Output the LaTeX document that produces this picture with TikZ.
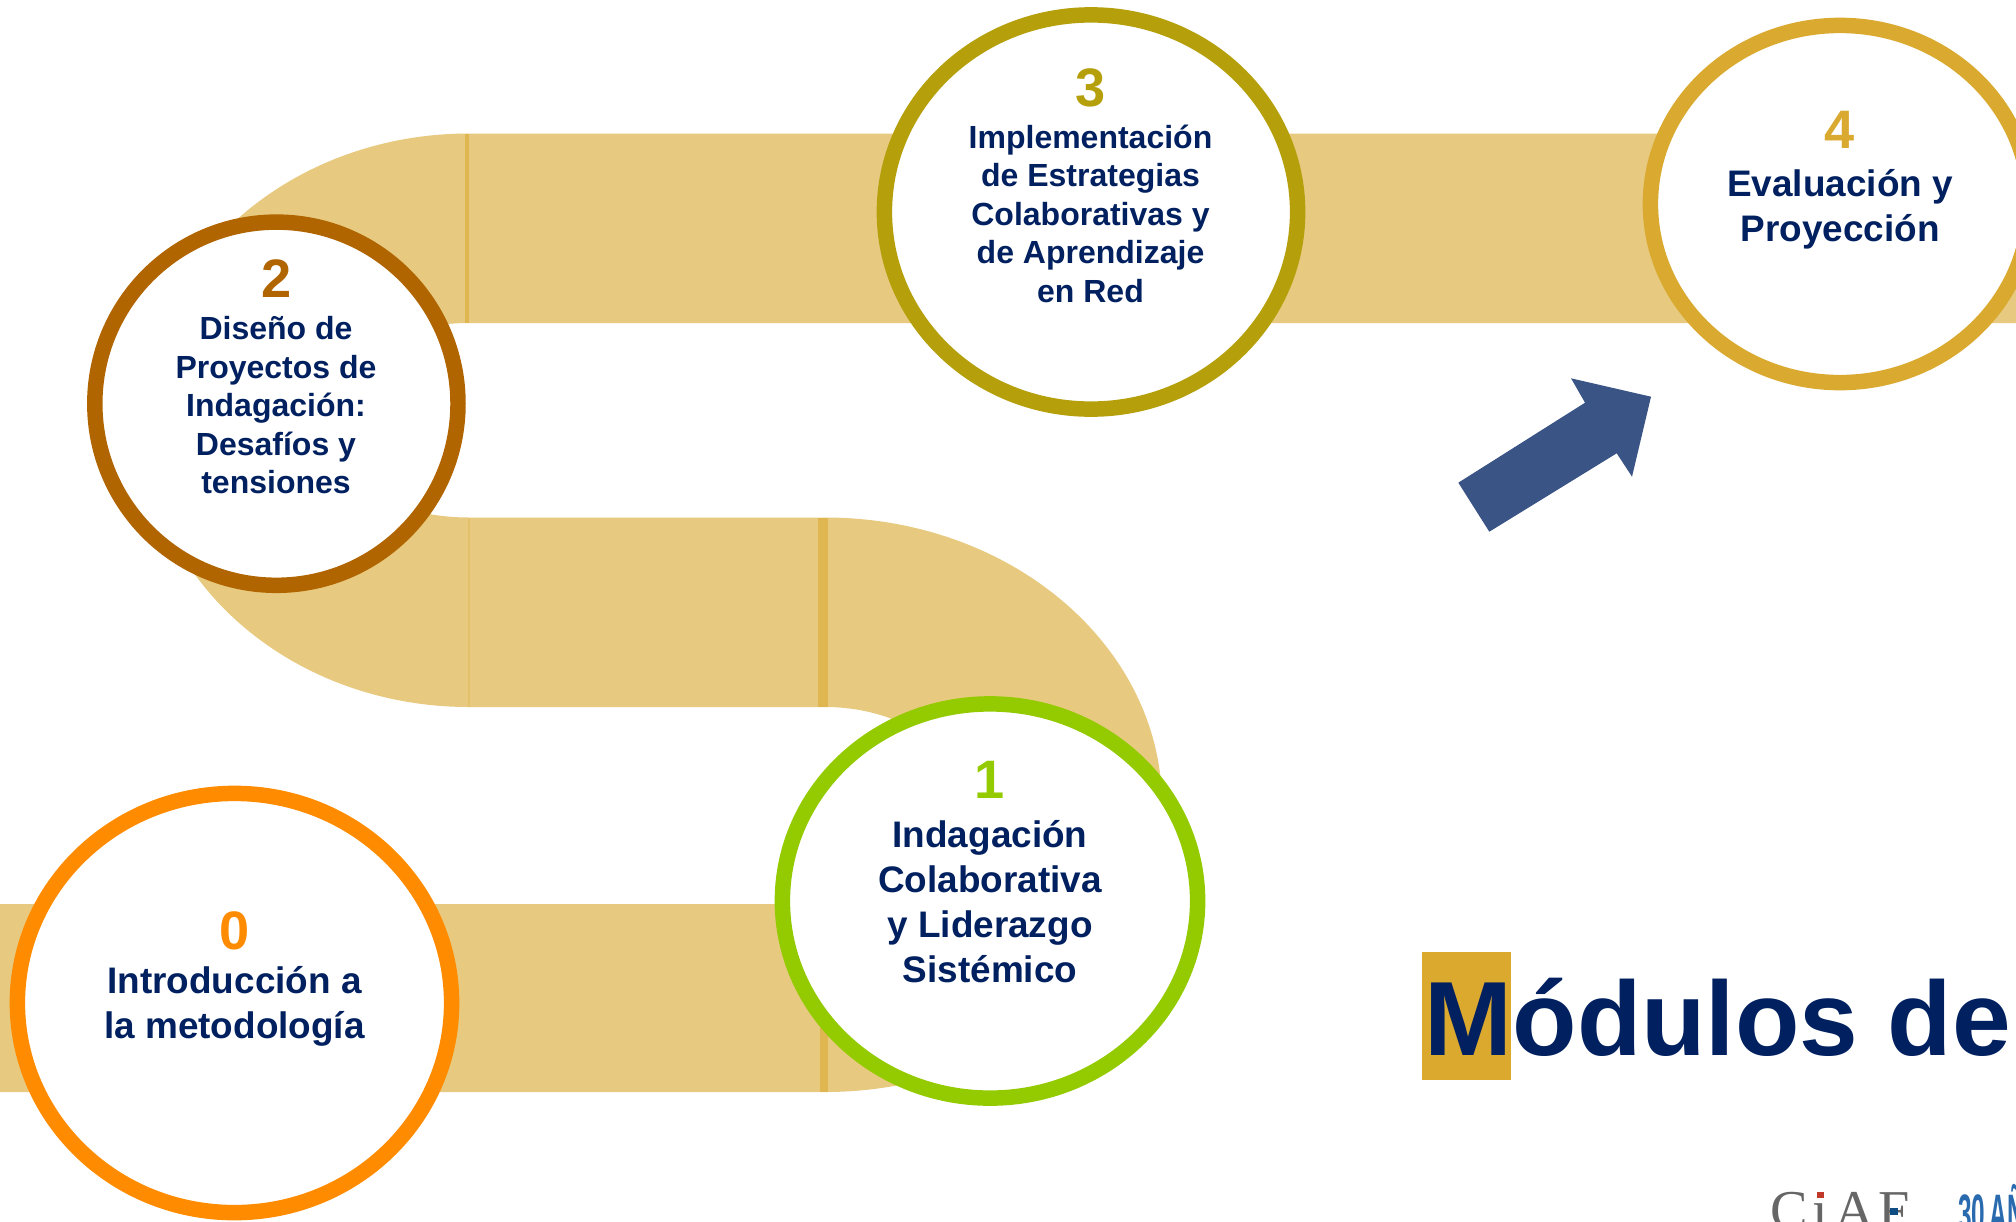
\documentclass[tikz,border=0pt]{standalone}
\usepackage{fontspec}
\setmainfont{Liberation Sans}
\newfontfamily\logofont{Liberation Serif}
\usetikzlibrary{shapes.geometric}
\definecolor{camino}{HTML}{E7CA80}
\definecolor{junta}{HTML}{E0B650}
\definecolor{marino}{HTML}{012060}
\definecolor{flecha}{HTML}{3A5485}
\definecolor{oro}{HTML}{DAA92E}
\definecolor{mod0}{HTML}{FF8C00}
\definecolor{mod1}{HTML}{94CB00}
\definecolor{mod2}{HTML}{B06500}
\definecolor{mod3}{HTML}{B5A00C}
\definecolor{mod4}{HTML}{DAA930}
\definecolor{logorojo}{HTML}{C0392B}
\definecolor{logoazul}{HTML}{0F4C81}
\definecolor{logocielo}{HTML}{2A6AAE}
\tikzset{
  modulo/.style={ellipse,fill=white,line width=4.4pt,inner sep=0pt},
  numero/.style={font=\bfseries\fontsize{15.4}{18}\selectfont,inner sep=0pt},
  grande/.style={font=\bfseries\fontsize{10.5}{12.8}\selectfont,text=marino,align=center,inner sep=0pt},
  chico/.style={font=\bfseries\fontsize{9.1}{10.95}\selectfont,text=marino,align=center,inner sep=0pt},
  logo/.style={font=\logofont\fontsize{16}{16}\selectfont,text=black!60,anchor=base west,inner sep=0pt}
}
\begin{document}
\begin{tikzpicture}[x=0.01cm,y=-0.01cm]
                \useasboundingbox (0,0) rectangle (2016,1221);
                % camino
                \fill [color=camino] (0,904)--(825,904) arc[start angle=90,end angle=-90,x radius=140,y radius=98.5]
                  --(469,707) arc[start angle=90,end angle=270,x radius=325,y radius=286.75]
                  --(2016,133.5)--(2016,323)--(469,323) arc[start angle=270,end angle=90,x radius=150,y radius=97.25]
                  --(825,517.5) arc[start angle=-90,end angle=90,x radius=337,y radius=287.25]
                  --(0,1092)--cycle;
                \fill [color=junta] (465,133.5) rectangle (469,323);
                \fill [color=junta!40!camino] (468,517.5) rectangle (470,707);
                \fill [color=junta] (818,517.5) rectangle (828,707);
                \fill [color=junta] (820,904) rectangle (828,1092);
                % modulos
                \node [modulo,draw=mod0,minimum width=4.34cm,minimum height=4.19cm] (m0) at (234.5,1003) {};
                \node [modulo,draw=mod1,minimum width=4.15cm,minimum height=3.94cm] (m1) at (990,901) {};
                \node [modulo,draw=mod2,minimum width=3.63cm,minimum height=3.63cm] (m2) at (276.4,403.7) {};
                \node [modulo,draw=mod3,minimum width=4.13cm,minimum height=3.94cm] (m3) at (1091,212) {};
                \node [modulo,draw=mod4,minimum width=3.79cm,minimum height=3.57cm] (m4) at (1840,204) {};
                \node [numero,text=mod0] (n0) at (235,931) {0};
                \node [numero,text=mod1] (n1) at (990,780) {1};
                \node [numero,text=mod2] (n2) at (276.5,279) {2};
                \node [numero,text=mod3] (n3) at (1091,87.5) {3};
                \node [numero,text=mod4] (n4) at (1840,130) {4};
                \node [grande] (t0) at (234.5,1006.5) {Introducción a\\la metodología};
                \node [grande] (t1) at (990,902) {Indagación\\Colaborativa\\y Liderazgo\\Sistémico};
                \node [chico] (t2) at (276,405.5) {Diseño de\\Proyectos de\\Indagación:\\Desafíos y\\tensiones};
                \node [chico] (t3) at (1090.5,213.5) {Implementación\\de Estrategias\\Colaborativas y\\de Aprendizaje\\en Red};
                \node [grande] (t4) at (1840,209) {Evaluación y\\Proyección};
                % flecha
                \fill [color=flecha] (1651,396.7)--(1571,378.3)--(1585,402.7)--(1458.3,482.7)--(1489.3,531.7)--(1616.7,453.3)--(1632,476.7)--cycle;
                % titulo
                \fill [color=oro] (1422,952) rectangle (1511,1080);
                \node [font=\bfseries\fontsize{30}{36}\selectfont,text=marino,anchor=base west,inner sep=0pt] (titulo) at (1424,1055) {Módulos de};
                % logos
                \node [logo] (l1) at (1770,1229) {C};
                \node [logo] (l2) at (1812,1229) {ı};
                \node [logo] (l3) at (1834,1229) {A};
                \node [logo] (l4) at (1878,1229) {F};
                \fill [color=logorojo] (1816.5,1192) rectangle (1824,1198);
                \fill [color=logoazul] (1890,1208) rectangle (1897.5,1215);
                \node [font=\bfseries\fontsize{15.4}{16}\selectfont,text=logocielo,anchor=base west,inner sep=0pt,xscale=0.45] (l5) at (1958,1232) {30\,AÑ};
\end{tikzpicture}
\end{document}
